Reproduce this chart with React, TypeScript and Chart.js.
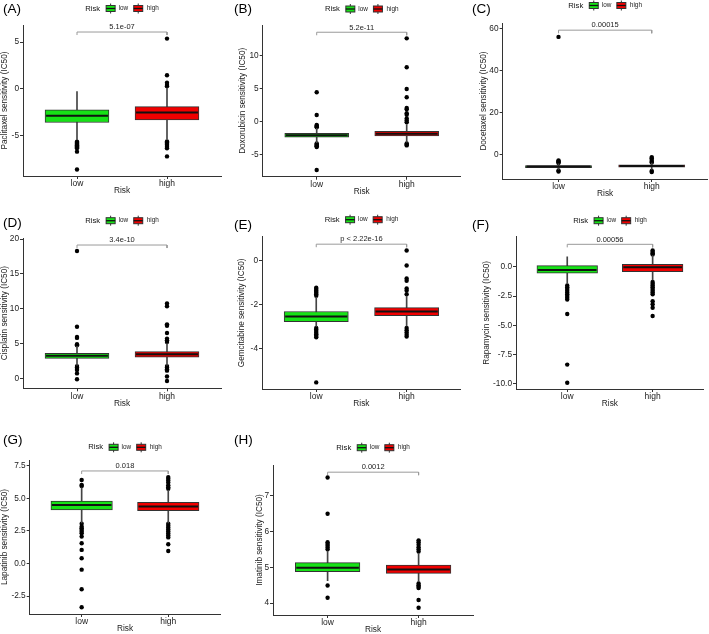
import React, { useEffect, useRef } from 'react';
import { Chart, registerables } from 'chart.js';

Chart.register(...registerables);

const FONT = "'Liberation Sans', Arial, Helvetica, sans-serif";
Chart.defaults.font.family = FONT;
Chart.defaults.color = '#222';

// ---------- data ----------
const categories = ['low', 'high'];
const legendTitle = 'Risk';
// box stats: [lower whisker, Q1, median, Q3, upper whisker]
const paclitaxelLow = [-5.4, -3.58, -2.87, -2.23, -0.29];
const paclitaxelHigh = [-5.35, -3.3, -2.52, -1.88, 0.1];
const paclitaxelLowOut = [-5.62, -5.72, -5.82, -5.92, -6.02, -6.12, -6.22, -6.32, -6.69, -8.6];
const paclitaxelHighOut = [0.3, 0.42, 0.67, 1.46, 5.38, -5.6, -5.72, -5.84, -5.96, -6.08, -6.2, -6.32, -7.2];
const paclitaxelTicks = [-5, 0, 5];

const doxorubicinLow = [-3.2, -2.37, -2.07, -1.76, -1.0];
const doxorubicinHigh = [-3.1, -2.17, -1.82, -1.46, -0.45];
const doxorubicinLowOut = [4.47, 1.02, -0.5, -0.62, -0.74, -0.86, -3.3, -3.45, -3.6, -3.75, -3.85, -7.34];
const doxorubicinHighOut = [12.67, 8.27, 4.97, 3.71, 2.1, 1.9, 1.3, 1.05, 0.5, 0.2, -0.1, -3.3, -3.45, -3.6];
const doxorubicinTicks = [-5, 0, 5, 10];

const docetaxelLow = [-6.8, -6.0, -5.5, -5.0, -4.2];
const docetaxelHigh = [-6.9, -5.8, -5.2, -4.7, -3.9];
const docetaxelLowOut = [56.0, -2.6, -3.0, -3.4, -3.8, -7.4, -7.9];
const docetaxelHighOut = [-1.0, -1.5, -2.4, -3.2, -3.6, -7.6, -8.1];
const docetaxelTicks = [0, 20, 40, 60];

const cisplatinLow = [1.9, 2.87, 3.25, 3.59, 4.6];
const cisplatinHigh = [1.9, 3.02, 3.45, 3.83, 5.0];
const cisplatinLowOut = [18.3, 7.4, 5.95, 5.8, 4.9, 4.75, 1.75, 1.55, 1.35, 1.2, 0.7, -0.15];
const cisplatinHighOut = [10.75, 10.35, 7.75, 7.55, 6.5, 5.7, 5.45, 5.2, 1.75, 1.55, 1.3, 1.1, 0.25, -0.4];
const cisplatinTicks = [0, 5, 10, 15, 20];

const gemcitabineLow = [-2.98, -2.76, -2.53, -2.3, -1.65];
const gemcitabineHigh = [-2.95, -2.49, -2.3, -2.12, -1.6];
const gemcitabineLowOut = [-1.22, -1.28, -1.34, -1.4, -1.46, -1.52, -1.58, -3.05, -3.12, -3.19, -3.26, -3.33, -3.4, -3.47, -5.52];
const gemcitabineHighOut = [0.47, -0.21, -0.8, -0.9, -1.25, -1.35, -1.51, -3.05, -3.15, -3.25, -3.35, -3.44];
const gemcitabineTicks = [-4, -2, 0];

const rapamycinLow = [-1.42, -0.56, -0.28, 0.09, 0.85];
const rapamycinHigh = [-1.13, -0.43, -0.05, 0.2, 0.95];
const rapamycinLowOut = [-1.6, -1.75, -1.9, -2.05, -2.2, -2.35, -2.5, -2.65, -2.8, -4.03, -8.35, -9.9];
const rapamycinHighOut = [1.05, 1.15, 1.25, 1.38, -1.3, -1.45, -1.6, -1.75, -1.9, -2.05, -2.2, -2.35, -2.95, -3.2, -3.5, -4.2];
const rapamycinTicks = [-10, -7.5, -5, -2.5, 0];

const lapatinibLow = [3.1, 4.1, 4.49, 4.79, 5.8];
const lapatinibHigh = [3.1, 4.05, 4.36, 4.69, 5.6];
const lapatinibLowOut = [6.4, 6.02, 5.94, 3.05, 2.82, 2.7, 2.57, 2.44, 2.31, 2.06, 1.55, 1.04, 0.4, -0.47, -1.97, -3.35];
const lapatinibHighOut = [6.62, 6.5, 6.35, 6.2, 6.0, 5.85, 5.72, 3.05, 2.9, 2.75, 2.6, 2.45, 2.3, 2.15, 2.0, 1.47, 0.96];
const lapatinibTicks = [-2.5, 0, 2.5, 5, 7.5];

const imatinibLow = [4.63, 4.88, 4.99, 5.13, 5.45];
const imatinibHigh = [4.6, 4.83, 4.94, 5.06, 5.38];
const imatinibLowOut = [7.5, 6.49, 5.7, 5.65, 5.6, 5.55, 5.5, 4.49, 4.15];
const imatinibHighOut = [5.75, 5.7, 5.63, 5.56, 5.5, 5.44, 4.55, 4.5, 4.46, 4.42, 4.09, 3.87];
const imatinibTicks = [4, 5, 6, 7];

const pLabels = ['5.1e-07', '5.2e-11', '0.00015', '3.4e-10', 'p < 2.22e-16', '0.00056', '0.018', '0.0012'];
const pBracketY = [6.08, 13.6, 59.2, 19.15, 0.76, 1.91, 7.09, 7.65];
const panelTags = ['(A)', '(B)', '(C)', '(D)', '(E)', '(F)', '(G)', '(H)'];
const yTitles = [
  'Paclitaxel sensitivity (IC50)',
  'Doxorubicin sensitivity (IC50)',
  'Docetaxel sensitivity (IC50)',
  'Cisplatin sensitivity (IC50)',
  'Gemcitabine sensitivity (IC50)',
  'Rapamycin sensitivity (IC50)',
  'Lapatinib sensitivity (IC50)',
  'Imatinib sensitivity (IC50)',
];

// ---------- style / layout ----------
const boxColors = ['#16e216', '#f00000'];

type PanelCfg = {
  left: number; top: number; w: number; h: number;
  pl: number; pt: number; pb: number; unit: number;
  ymin: number; ymax: number; decimals: number;
  titleX: number; tagX: number; tagY: number; legendY: number;
  low: number[]; high: number[]; lowOut: number[]; highOut: number[]; ticks: number[];
};

const panels: PanelCfg[] = [
  { left: 0, top: 0, w: 236, h: 205, pl: 23, pt: 25, pb: 176, unit: 90, ymin: -9.29, ymax: 6.83, decimals: 0, titleX: 4.8, tagX: 3, tagY: 9.5, legendY: 8.5,
    low: paclitaxelLow, high: paclitaxelHigh, lowOut: paclitaxelLowOut, highOut: paclitaxelHighOut, ticks: paclitaxelTicks },
  { left: 233, top: 0, w: 237, h: 205, pl: 29.7, pt: 25, pb: 176.7, unit: 90, ymin: -8.36, ymax: 14.7, decimals: 0, titleX: 9.7, tagX: 1, tagY: 9.5, legendY: 9,
    low: doxorubicinLow, high: doxorubicinHigh, lowOut: doxorubicinLowOut, highOut: doxorubicinHighOut, ticks: doxorubicinTicks },
  { left: 470, top: 0, w: 239, h: 205, pl: 32.6, pt: 23, pb: 179, unit: 93.2, ymin: -11.4, ymax: 62.6, decimals: 0, titleX: 14, tagX: 2, tagY: 9.5, legendY: 5.5,
    low: docetaxelLow, high: docetaxelHigh, lowOut: docetaxelLowOut, highOut: docetaxelHighOut, ticks: docetaxelTicks },
  { left: 0, top: 205, w: 236, h: 210, pl: 23, pt: 33, pb: 183.3, unit: 90, ymin: -1.44, ymax: 20.16, decimals: 0, titleX: 5, tagX: 3, tagY: 18, legendY: 15.7,
    low: cisplatinLow, high: cisplatinHigh, lowOut: cisplatinLowOut, highOut: cisplatinHighOut, ticks: cisplatinTicks },
  { left: 233, top: 205, w: 237, h: 210, pl: 29, pt: 31.7, pb: 184, unit: 90.4, ymin: -5.82, ymax: 1.1, decimals: 0, titleX: 9, tagX: 1, tagY: 20, legendY: 14.7,
    low: gemcitabineLow, high: gemcitabineHigh, lowOut: gemcitabineLowOut, highOut: gemcitabineHighOut, ticks: gemcitabineTicks },
  { left: 470, top: 205, w: 239, h: 210, pl: 46, pt: 31.7, pb: 184, unit: 85.4, ymin: -10.43, ymax: 2.56, decimals: 1, titleX: 16.7, tagX: 2, tagY: 20, legendY: 15.7,
    low: rapamycinLow, high: rapamycinHigh, lowOut: rapamycinLowOut, highOut: rapamycinHighOut, ticks: rapamycinTicks },
  { left: 0, top: 415, w: 236, h: 219, pl: 29.7, pt: 45, pb: 199, unit: 86.6, ymin: -3.87, ymax: 7.93, decimals: 1, titleX: 5, tagX: 3, tagY: 25, legendY: 32.3,
    low: lapatinibLow, high: lapatinibHigh, lowOut: lapatinibLowOut, highOut: lapatinibHighOut, ticks: lapatinibTicks },
  { left: 233, top: 415, w: 243, h: 219, pl: 40, pt: 50, pb: 200, unit: 91, ymin: 3.67, ymax: 7.85, decimals: 0, titleX: 27, tagX: 1, tagY: 25, legendY: 32.7,
    low: imatinibLow, high: imatinibHigh, lowOut: imatinibLowOut, highOut: imatinibHighOut, ticks: imatinibTicks },
];

function drawGlyph(ctx: CanvasRenderingContext2D, cx: number, cy: number, color: string) {
  ctx.strokeStyle = '#333';
  ctx.lineWidth = 1;
  ctx.beginPath();
  ctx.moveTo(cx, cy - 5);
  ctx.lineTo(cx, cy + 5);
  ctx.stroke();
  ctx.fillStyle = color;
  ctx.fillRect(cx - 4.5, cy - 3, 9, 6);
  ctx.strokeRect(cx - 4.5, cy - 3, 9, 6);
  ctx.lineWidth = 1.3;
  ctx.strokeStyle = '#111';
  ctx.beginPath();
  ctx.moveTo(cx - 4.5, cy);
  ctx.lineTo(cx + 4.5, cy);
  ctx.stroke();
}

const decorPlugin = {
  id: 'decor',
  afterDraw(chart: any, _args: any, opts: any) {
    const { ctx, chartArea, scales } = chart;
    const xs = scales.x;
    const ys = scales.y;
    ctx.save();
    // p-value label
    ctx.font = `7.5px ${FONT}`;
    ctx.fillStyle = '#222';
    ctx.textAlign = 'center';
    ctx.textBaseline = 'bottom';
    ctx.fillText(opts.pLabel, xs.getPixelForValue(1.5), ys.getPixelForValue(opts.pY) - 1);
    // panel tag
    ctx.font = `13.5px ${FONT}`;
    ctx.fillStyle = '#000';
    ctx.textAlign = 'left';
    ctx.textBaseline = 'middle';
    ctx.fillText(opts.tag, opts.tagX, opts.tagY);
    // legend
    const cy = opts.legendY;
    ctx.font = `7.7px ${FONT}`;
    const wTitle = ctx.measureText(legendTitle).width;
    ctx.font = `6.4px ${FONT}`;
    const wLow = ctx.measureText(categories[0]).width;
    const wHigh = ctx.measureText(categories[1]).width;
    const total = wTitle + 6 + 9 + 3.5 + wLow + 5.5 + 9 + 4 + wHigh;
    let x = (chartArea.left + chartArea.right) / 2 - total / 2;
    ctx.font = `7.7px ${FONT}`;
    ctx.fillStyle = '#111';
    ctx.textAlign = 'left';
    ctx.fillText(legendTitle, x, cy);
    x += wTitle + 6;
    drawGlyph(ctx, x + 4.5, cy, boxColors[0]);
    x += 9 + 3.5;
    ctx.font = `6.4px ${FONT}`;
    ctx.fillStyle = '#222';
    ctx.fillText(categories[0], x, cy);
    x += wLow + 5.5;
    drawGlyph(ctx, x + 4.5, cy, boxColors[1]);
    x += 9 + 4;
    ctx.font = `6.4px ${FONT}`;
    ctx.fillStyle = '#222';
    ctx.fillText(categories[1], x, cy);
    ctx.restore();
  },
};

function makeConfig(p: PanelCfg, idx: number): any {
  const groups = [p.low, p.high];
  const bt = p.unit * 0.71;
  const pr = p.pl + 2.2 * p.unit;
  const arm = 0.02 * (p.ymax - p.ymin);
  const pY = pBracketY[idx];
  const outliers = [
    ...p.lowOut.map((v) => ({ x: 1, y: v })),
    ...p.highOut.map((v) => ({ x: 2, y: v })),
  ];
  return {
    type: 'bar',
    data: {
      datasets: [
        {
          type: 'scatter', label: 'median', order: 0,
          data: groups.map((g, i) => ({ x: i + 1, y: g[2] })),
          pointStyle: 'line', pointRadius: bt / 2 - 1, pointBorderWidth: 2, pointBorderColor: '#111',
        },
        {
          type: 'bar', label: 'box', order: 1, grouped: false,
          data: groups.map((g, i) => ({ x: i + 1, y: [g[1], g[3]] })),
          backgroundColor: boxColors, borderColor: '#333', borderWidth: 1, borderSkipped: false,
          barThickness: bt,
        },
        {
          type: 'bar', label: 'whisker', order: 2, grouped: false,
          data: groups.map((g, i) => ({ x: i + 1, y: [g[0], g[4]] })),
          backgroundColor: '#444', borderWidth: 0, barThickness: 1,
        },
        {
          type: 'scatter', label: 'outliers', order: 3,
          data: outliers,
          pointRadius: 2.2, pointBackgroundColor: '#000', pointBorderWidth: 0, pointStyle: 'circle',
        },
        {
          type: 'line', label: 'bracket', order: 4,
          data: [
            { x: 1, y: pY - arm }, { x: 1, y: pY }, { x: 2, y: pY }, { x: 2, y: pY - arm },
          ],
          borderColor: '#9a9a9a', borderWidth: 1, pointRadius: 0, fill: false, tension: 0,
        },
      ],
    },
    options: {
      responsive: false,
      maintainAspectRatio: false,
      animation: false,
      events: [],
      layout: { autoPadding: false, padding: { left: 0, top: p.pt, right: p.w - pr, bottom: p.h - p.pb - 20 } },
      plugins: {
        legend: { display: false },
        tooltip: { enabled: false },
        decor: { pLabel: pLabels[idx], pY, tag: panelTags[idx], tagX: p.tagX, tagY: p.tagY, legendY: p.legendY },
      },
      scales: {
        x: {
          type: 'linear', min: 0.4, max: 2.6, offset: false,
          grid: { display: true, drawOnChartArea: false, drawTicks: true, tickLength: 3, color: '#333', offset: false },
          border: { display: true, color: '#333', width: 1 },
          ticks: {
            autoSkip: false, padding: 0, color: '#222', font: { size: 8.5 }, maxRotation: 0,
            callback: (v: number) => categories[Math.round(v) - 1] ?? '',
          },
          afterBuildTicks: (s: any) => { s.ticks = [{ value: 1 }, { value: 2 }]; },
          afterFit: (s: any) => {
            s.height = 20;
            s.paddingLeft = 0; s.paddingRight = 0; s.paddingTop = 0; s.paddingBottom = 0;
          },
          title: { display: true, text: 'Risk', color: '#222', font: { size: 8.3 }, padding: { top: 0, bottom: 0 } },
        },
        y: {
          type: 'linear', min: p.ymin, max: p.ymax, beginAtZero: false,
          grid: { display: true, drawOnChartArea: false, drawTicks: true, tickLength: 3, color: '#333' },
          border: { display: true, color: '#333', width: 1 },
          ticks: {
            autoSkip: false, padding: 1, color: '#222', font: { size: 8.3 },
            callback: (v: number) => Number(v).toFixed(p.decimals),
          },
          afterBuildTicks: (s: any) => { s.ticks = p.ticks.map((v) => ({ value: v })); },
          afterFit: (s: any) => {
            s.width = p.pl;
            s.paddingLeft = 0; s.paddingRight = 0; s.paddingTop = 0; s.paddingBottom = 0;
          },
          title: {
            display: true, text: yTitles[idx], color: '#222', font: { size: 8.2 },
            padding: { top: Math.max(0, p.titleX - 4.92), bottom: 0 },
          },
        },
      },
    },
    plugins: [decorPlugin],
  };
}

function Panel({ p, idx }: { p: PanelCfg; idx: number }) {
  const ref = useRef<HTMLCanvasElement>(null);
  useEffect(() => {
    if (!ref.current) return;
    const chart = new Chart(ref.current, makeConfig(p, idx));
    return () => chart.destroy();
  }, [p, idx]);
  return (
    <div style={{ position: 'absolute', left: p.left, top: p.top, width: p.w, height: p.h }}>
      <canvas ref={ref} width={p.w} height={p.h} style={{ width: p.w, height: p.h, display: 'block' }} />
    </div>
  );
}

export default function App() {
  return (
    <div style={{ position: 'absolute', left: 0, top: 0, width: 709, height: 634, overflow: 'hidden', background: '#fff' }}>
      {panels.map((p, i) => (
        <Panel key={i} p={p} idx={i} />
      ))}
    </div>
  );
}
